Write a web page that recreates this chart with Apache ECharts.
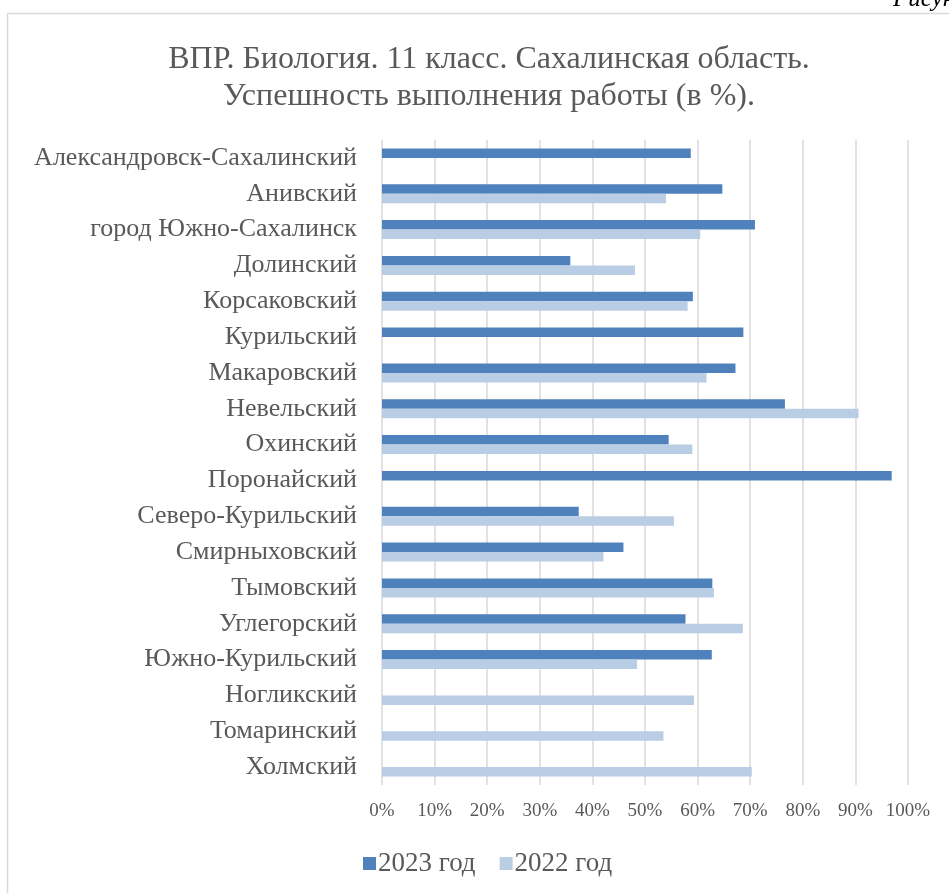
<!DOCTYPE html>
<html>
<head>
<meta charset="utf-8">
<script src="https://cdn.jsdelivr.net/npm/echarts@6/dist/echarts.min.js"></script>
<style>
  html, body { margin: 0; padding: 0; background: #fff; }
  #chart { width: 949px; height: 893px; }
</style>
</head>
<body>
<div id="chart"></div>
<script>
const districts = [
  'Александровск-Сахалинский', 'Анивский', 'город Южно-Сахалинск', 'Долинский',
  'Корсаковский', 'Курильский', 'Макаровский', 'Невельский', 'Охинский',
  'Поронайский', 'Северо-Курильский', 'Смирныховский', 'Тымовский',
  'Углегорский', 'Южно-Курильский', 'Ногликский', 'Томаринский', 'Холмский'
];
// null = no data for that year
const values2023 = [58.7, 64.7, 70.9, 35.8, 59.1, 68.7, 67.2, 76.6, 54.5, 96.9, 37.4, 45.9, 62.8, 57.7, 62.7, null, null, null];
const values2022 = [null, 54.0, 60.5, 48.1, 58.1, null, 61.7, 90.6, 59.0, null, 55.5, 42.1, 63.1, 68.6, 48.5, 59.3, 53.5, 70.3];
const xTicks = [0, 10, 20, 30, 40, 50, 60, 70, 80, 90, 100];

const textColor = '#595959';
const serif = "'Liberation Serif', 'DejaVu Serif', serif";

const chart = echarts.init(document.getElementById('chart'));
chart.setOption({
  animation: false,
  textStyle: { fontFamily: serif },
  graphic: [
    // outer chart frame (cut off at right and bottom in the source)
    { type: 'polyline', silent: true,
      shape: { points: [[7.5, 893], [7.5, 13.5], [949, 13.5]] },
      style: { stroke: '#d9d9d9', lineWidth: 1.5, fill: null } },
    { type: 'text', left: 893, top: -13,
      style: { text: 'Рисунок', font: 'italic 25px ' + serif, fill: '#000' } }
  ],
  title: {
    text: 'ВПР. Биология. 11 класс. Сахалинская область.\nУспешность выполнения работы (в %).',
    left: 484, top: 36, textAlign: 'center',
    textStyle: { fontFamily: serif, fontSize: 32, fontWeight: 'normal', color: textColor, lineHeight: 37 }
  },
  legend: {
    data: ['2023 год', '2022 год'],
    left: 358, top: 845, itemGap: 24,
    itemWidth: 13, itemHeight: 13, icon: 'rect',
    textStyle: { fontFamily: serif, fontSize: 27, color: textColor, padding: [0, 0, 0, -3] }
  },
  grid: { left: 382, right: 41, top: 140, bottom: 108, containLabel: false },
  xAxis: {
    type: 'value', min: 0, max: 100, interval: 10,
    axisLine: { show: false }, axisTick: { show: false },
    splitLine: { lineStyle: { color: '#d9d9d9', width: 1.5 } },
    axisLabel: {
      color: textColor, fontSize: 19, fontFamily: serif, margin: 17,
      formatter: v => xTicks.includes(v) ? v + '%' : ''
    }
  },
  yAxis: {
    type: 'category', data: districts, inverse: true,
    axisLine: { show: false }, axisTick: { show: false },
    axisLabel: { color: textColor, fontSize: 26, fontFamily: serif, margin: 25 }
  },
  series: [
    { name: '2023 год', type: 'bar', data: values2023,
      itemStyle: { color: '#4f81bd' }, barWidth: 9.5, barGap: '0%' },
    { name: '2022 год', type: 'bar', data: values2022,
      itemStyle: { color: '#b9cde5' }, barWidth: 9.5, barGap: '0%' }
  ]
});
</script>
</body>
</html>
